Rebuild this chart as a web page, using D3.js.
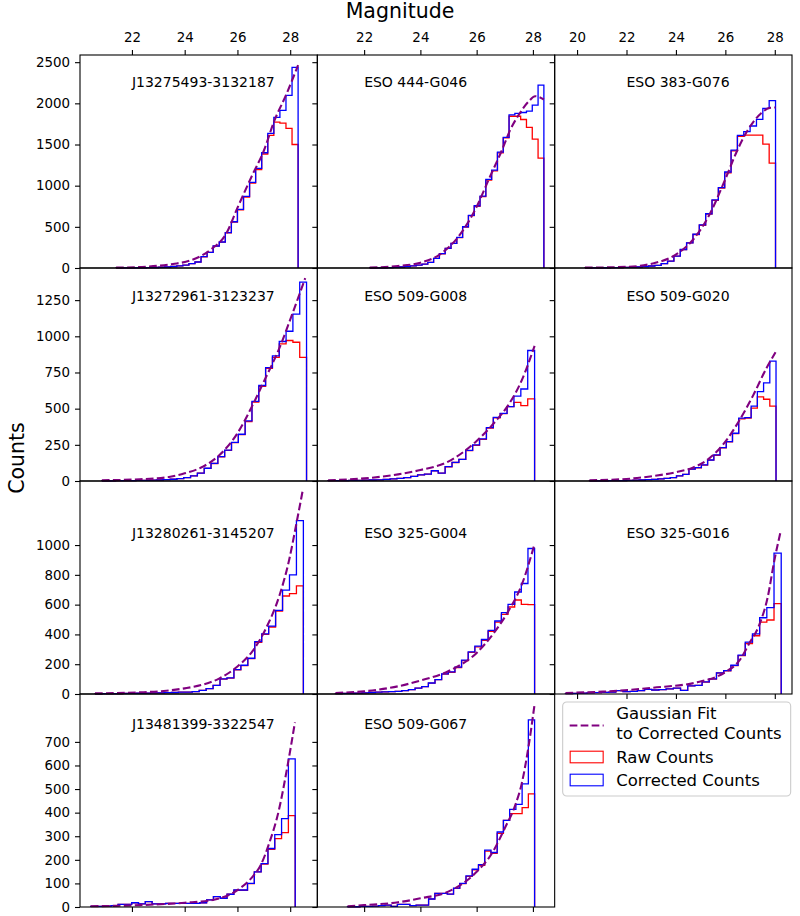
<!DOCTYPE html>
<html>
<head>
<meta charset="utf-8">
<script src="https://cdn.jsdelivr.net/npm/d3@7"></script>
<style>
body { margin: 0; background: #fff; }
svg { font-family: "DejaVu Sans", sans-serif; }
</style>
</head>
<body>
<div id="chart"></div>
<script>
// galaxy names, one per panel (row by row)
const names = [
    "J13275493-3132187", "ESO 444-G046", "ESO 383-G076",
    "J13272961-3123237", "ESO 509-G008", "ESO 509-G020",
    "J13280261-3145207", "ESO 325-G004", "ESO 325-G016",
    "J13481399-3322547", "ESO 509-G067"
];

// first and last histogram edge (30 bins in between)
const magRanges = [
    [21.40, 28.30], [22.20, 28.39], [20.32, 28.03],
    [20.86, 28.62], [20.72, 28.06], [20.50, 28.05],
    [20.60, 28.50], [20.98, 28.06], [19.53, 28.26],
    [20.44, 28.19], [21.41, 28.06]
];

const corrCounts = [
    [1, 1, 2, 3, 3, 5, 6, 9, 12, 18, 25, 36, 53, 73, 137, 190, 267, 316, 429, 562, 712, 870, 1040, 1210, 1400, 1635, 1829, 1914, 2096, 2436],
    [1, 2, 3, 5, 8, 12, 18, 26, 36, 48, 69, 117, 174, 239, 300, 372, 501, 639, 756, 874, 1076, 1189, 1408, 1586, 1860, 1877, 1889, 1905, 1978, 2221],
    [1, 1, 2, 3, 4, 5, 7, 9, 12, 16, 24, 32, 52, 84, 145, 225, 306, 410, 523, 659, 828, 977, 1166, 1431, 1612, 1656, 1725, 1805, 1938, 2034],
    [1, 1, 2, 2, 3, 4, 5, 6, 7, 9, 12, 16, 23, 35, 55, 88, 122, 168, 214, 267, 323, 415, 551, 660, 784, 865, 964, 1035, 1153, 1374],
    [2, 2, 3, 4, 5, 6, 7, 8, 11, 14, 18, 23, 32, 42, 48, 71, 55, 99, 129, 150, 212, 249, 291, 369, 440, 468, 514, 586, 636, 902],
    [1, 1, 1, 2, 3, 3, 4, 6, 7, 9, 11, 14, 18, 23, 35, 46, 83, 92, 111, 145, 180, 231, 272, 330, 434, 438, 517, 618, 678, 828],
    [1, 2, 2, 3, 4, 4, 5, 6, 7, 8, 9, 10, 12, 13, 16, 25, 36, 58, 101, 108, 164, 193, 240, 351, 404, 456, 562, 697, 800, 1164],
    [3, 4, 5, 6, 8, 10, 12, 14, 16, 18, 22, 29, 40, 49, 74, 97, 135, 148, 180, 227, 283, 321, 366, 427, 490, 546, 602, 685, 742, 977],
    [3, 4, 6, 8, 9, 11, 13, 22, 16, 18, 22, 31, 27, 29, 34, 40, 25, 54, 58, 81, 101, 142, 157, 193, 261, 348, 404, 512, 580, 946],
    [3, 3, 4, 6, 11, 11, 18, 13, 23, 13, 13, 15, 15, 15, 15, 15, 18, 30, 44, 37, 54, 72, 72, 100, 149, 184, 248, 307, 375, 628],
    [1, 1, 3, 3, 4, 6, 8, 3, 11, 11, 6, 8, 8, 34, 58, 58, 55, 80, 100, 132, 160, 180, 241, 231, 318, 367, 414, 435, 522, 793]
];

const rawCounts = [
    [1, 1, 2, 3, 3, 5, 6, 9, 12, 18, 25, 36, 53, 73, 136, 189, 265, 314, 426, 558, 706, 862, 1030, 1195, 1385, 1610, 1772, 1760, 1695, 1500],
    [1, 2, 3, 5, 8, 12, 18, 26, 36, 48, 69, 117, 173, 238, 298, 370, 498, 635, 750, 868, 1068, 1180, 1398, 1580, 1843, 1843, 1804, 1707, 1565, 1335],
    [1, 1, 2, 3, 4, 5, 7, 9, 12, 16, 24, 32, 52, 84, 144, 224, 304, 407, 519, 654, 821, 969, 1156, 1423, 1600, 1615, 1615, 1615, 1505, 1275],
    [1, 1, 2, 2, 3, 4, 5, 6, 7, 9, 12, 16, 23, 35, 55, 87, 121, 167, 212, 265, 320, 411, 545, 654, 778, 855, 948, 971, 959, 855],
    [2, 2, 3, 4, 5, 6, 7, 8, 11, 14, 18, 23, 32, 42, 48, 70, 55, 98, 128, 149, 210, 246, 288, 365, 436, 465, 514, 544, 521, 567],
    [1, 1, 1, 2, 3, 3, 4, 6, 7, 9, 11, 14, 18, 23, 35, 46, 82, 91, 110, 144, 178, 229, 270, 327, 430, 434, 503, 581, 565, 517],
    [1, 2, 2, 3, 4, 4, 5, 6, 7, 8, 9, 10, 12, 13, 16, 25, 36, 58, 100, 107, 162, 191, 238, 347, 400, 450, 557, 658, 674, 726],
    [3, 4, 5, 6, 8, 10, 12, 14, 16, 18, 22, 29, 40, 49, 73, 96, 134, 146, 178, 224, 280, 317, 361, 421, 483, 535, 584, 631, 602, 600],
    [3, 4, 6, 8, 9, 11, 13, 22, 16, 18, 22, 31, 27, 29, 34, 40, 25, 54, 58, 80, 100, 141, 155, 191, 258, 339, 391, 483, 497, 607],
    [3, 3, 4, 6, 11, 11, 18, 13, 23, 13, 13, 15, 15, 15, 15, 15, 18, 30, 44, 37, 54, 71, 71, 99, 149, 182, 244, 290, 315, 387],
    [1, 1, 3, 3, 4, 6, 8, 3, 11, 11, 6, 8, 8, 34, 58, 58, 55, 79, 99, 130, 158, 177, 237, 227, 312, 367, 396, 396, 421, 480]
];

// Gaussian fit curve as [magnitude, counts]
const fitPoints = [
    [[21.40, 4], [22.55, 16], [23.56, 49], [24.19, 89], [25.0, 227], [25.58, 421], [26.0, 730], [26.58, 1140], [27.0, 1424], [27.40, 1790], [27.84, 2099], [28.30, 2464]],
    [[22.2, 4], [23.2, 24], [24.0, 64], [24.75, 178], [25.35, 380], [26.0, 744], [26.42, 1068], [26.90, 1432], [27.19, 1675], [27.49, 1857], [27.84, 2019], [28.08, 2087], [28.39, 2047]],
    [[20.32, 4], [21.99, 14], [23.06, 55], [23.98, 160], [24.68, 340], [25.36, 650], [26.0, 1080], [26.44, 1400], [26.78, 1610], [27.12, 1770], [27.45, 1880], [27.79, 1945], [28.03, 1950]],
    [[20.86, 5], [22.3, 12], [23.31, 25], [24.0, 53], [24.69, 99], [25.32, 180], [26.0, 330], [26.58, 526], [27.0, 687], [27.59, 918], [28.09, 1160], [28.57, 1402]],
    [[20.72, 5], [22.0, 18], [23.21, 46], [24.0, 76], [24.99, 134], [26.0, 277], [26.66, 410], [27.13, 526], [27.61, 699], [28.06, 934]],
    [[20.5, 5], [21.99, 14], [23.06, 34], [23.98, 60], [24.68, 92], [25.36, 158], [26.0, 272], [26.57, 420], [27.12, 590], [27.66, 779], [28.03, 890]],
    [[20.6, 4], [22.3, 11], [23.31, 22], [24.0, 38], [24.69, 63], [25.32, 105], [26.0, 185], [26.58, 290], [27.08, 440], [27.59, 660], [27.96, 900], [28.22, 1130], [28.47, 1362]],
    [[20.98, 7], [22.0, 18], [23.21, 52], [24.0, 90], [24.99, 153], [26.0, 276], [26.66, 422], [27.13, 557], [27.61, 737], [28.06, 1007]],
    [[19.53, 7], [21.04, 16], [23.06, 42], [24.95, 82], [26.03, 150], [26.57, 225], [26.97, 340], [27.38, 467], [27.71, 647], [27.98, 894], [28.25, 1101]],
    [[20.44, 3], [22.30, 8], [24.0, 18], [25.06, 30], [26.0, 72], [26.57, 128], [26.88, 177], [27.20, 269], [27.57, 410], [27.89, 593], [28.18, 783]],
    [[21.41, 3], [22.0, 8], [23.21, 20], [24.0, 37], [24.99, 65], [26.0, 149], [26.54, 227], [27.02, 339], [27.37, 431], [27.6, 522], [27.84, 677], [28.06, 860]]
];

const rowTicks = [
    [0, 500, 1000, 1500, 2000, 2500],
    [0, 250, 500, 750, 1000, 1250],
    [0, 200, 400, 600, 800, 1000],
    [0, 100, 200, 300, 400, 500, 600, 700]
];
const colTicks = [[22, 24, 26, 28], [22, 24, 26, 28], [20, 22, 24, 26, 28]];

const legendLabels = ["Gaussian Fit\nto Corrected Counts", "Raw Counts", "Corrected Counts"];

// layout
const width = 800, height = 916;
const margin = {left: 80, right: 8, top: 55, bottom: 9};
const pw = (width - margin.left - margin.right) / 3;
const ph = (height - margin.top - margin.bottom) / 4;
const titleDy = [27, 28, 52, 30];
const tickLen = 5;

const panels = names.map((name, i) => ({
    name: name,
    row: Math.floor(i / 3),
    col: i % 3,
    lo: magRanges[i][0],
    hi: magRanges[i][1],
    raw: rawCounts[i],
    corr: corrCounts[i],
    fit: fitPoints[i]
}));

// shared x per column, shared y per row (like sharex/sharey)
const xScales = [0, 1, 2].map((c) => {
    let ps = panels.filter((p) => p.col === c);
    let lo = d3.min(ps, (p) => p.lo), hi = d3.max(ps, (p) => p.hi);
    let pad = (hi - lo) * 0.05;
    return d3.scaleLinear([lo - pad, hi + pad], [margin.left + c * pw, margin.left + (c + 1) * pw]);
});
const yScales = [0, 1, 2, 3].map((r) => {
    let ps = panels.filter((p) => p.row === r);
    let m = d3.max(ps, (p) => Math.max(d3.max(p.corr), d3.max(p.raw), d3.max(p.fit, (d) => d[1])));
    return d3.scaleLinear([0, m * 1.05], [margin.top + (r + 1) * ph, margin.top + r * ph]);
});

function stepPoints(p, counts) {
    let w = (p.hi - p.lo) / counts.length;
    let pts = [[p.lo, 0]];
    counts.forEach((c, k) => {
        pts.push([p.lo + k * w, c]);
        pts.push([p.lo + (k + 1) * w, c]);
    });
    pts.push([p.hi, 0]);
    return pts;
}

const svg = d3.select("#chart").append("svg")
    .attr("width", width)
    .attr("height", height);

svg.append("rect").attr("width", width).attr("height", height).attr("fill", "#fff");

panels.forEach((p) => {
    let x = xScales[p.col], y = yScales[p.row];
    let g = svg.append("g").classed("panel", true);

    let stepLine = d3.line().x((d) => x(d[0])).y((d) => y(d[1]));
    let fitLine = d3.line().x((d) => x(d[0])).y((d) => y(d[1])).curve(d3.curveMonotoneX);

    g.append("path")
        .attr("d", stepLine(stepPoints(p, p.raw)))
        .attr("fill", "none")
        .attr("stroke", "red")
        .attr("stroke-width", 1.3);

    g.append("path")
        .attr("d", stepLine(stepPoints(p, p.corr)))
        .attr("fill", "none")
        .attr("stroke", "blue")
        .attr("stroke-width", 1.3);

    g.append("path")
        .attr("d", fitLine(p.fit))
        .attr("fill", "none")
        .attr("stroke", "purple")
        .attr("stroke-width", 2.1)
        .attr("stroke-dasharray", "7.7,3.3");

    g.append("text")
        .attr("x", x(22))
        .attr("y", y.range()[1] + titleDy[p.row])
        .attr("dominant-baseline", "central")
        .attr("font-size", "14px")
        .attr("fill", "#000")
        .text(p.name);
});

// spines and ticks on top
function styleAxis(g) {
    g.select(".domain").remove();
    g.selectAll(".tick line").attr("stroke", "#000").attr("stroke-width", 1.1);
    g.selectAll(".tick text").attr("fill", "#000").attr("font-size", "13.4px")
        .attr("font-family", "DejaVu Sans, sans-serif");
}

panels.forEach((p) => {
    let x = xScales[p.col], y = yScales[p.row];
    let x0 = x.range()[0], x1 = x.range()[1];
    let yb = y.range()[0], yt = y.range()[1];

    let yAxis = d3.axisLeft(y).tickValues(rowTicks[p.row]).tickSize(tickLen).tickPadding(4.9)
        .tickFormat(d3.format("d"));
    if (p.col > 0) yAxis.tickFormat("");
    svg.append("g")
        .attr("transform", "translate(" + x0 + ",0)")
        .call(yAxis)
        .call(styleAxis);

    if (p.row === 0) {
        svg.append("g")
            .attr("transform", "translate(0," + yt + ")")
            .call(d3.axisTop(x).tickValues(colTicks[p.col]).tickSize(tickLen).tickPadding(8)
                .tickFormat(d3.format("d")))
            .call(styleAxis);
    }
    // bottom ticks only show where nothing sits underneath
    let below = panels.find((q) => q.row === p.row + 1 && q.col === p.col);
    if (!below) {
        svg.append("g")
            .attr("transform", "translate(0," + yb + ")")
            .call(d3.axisBottom(x).tickValues(colTicks[p.col]).tickSize(tickLen).tickFormat(""))
            .call(styleAxis);
    }

    svg.append("rect")
        .attr("x", x0).attr("y", yt)
        .attr("width", x1 - x0).attr("height", yb - yt)
        .attr("fill", "none")
        .attr("stroke", "#000")
        .attr("stroke-width", 1.1);
});

// axis labels
svg.append("text")
    .attr("x", width / 2)
    .attr("y", 11)
    .attr("text-anchor", "middle")
    .attr("dominant-baseline", "central")
    .attr("font-size", "20.5px")
    .text("Magnitude");

svg.append("text")
    .attr("transform", "translate(17," + (height / 2) + ") rotate(-90)")
    .attr("text-anchor", "middle")
    .attr("dominant-baseline", "central")
    .attr("font-size", "20.5px")
    .text("Counts");

// legend
let lx = margin.left + 2 * pw + 8, ly = margin.top + 3 * ph + 8;
let legend = svg.append("g").classed("legend", true).attr("transform", "translate(" + lx + "," + ly + ")");

legend.append("rect")
    .attr("x", 0).attr("y", 0)
    .attr("width", 228).attr("height", 94)
    .attr("rx", 4)
    .attr("fill", "#fff").attr("fill-opacity", 0.8)
    .attr("stroke", "#ccc").attr("stroke-width", 1.1);

legend.append("line")
    .attr("x1", 7).attr("x2", 41)
    .attr("y1", 23.5).attr("y2", 23.5)
    .attr("stroke", "purple").attr("stroke-width", 2.1)
    .attr("stroke-dasharray", "7.7,3.3");

// two-line label
legendLabels[0].split("\n").forEach((t, k) => {
    legend.append("text")
        .attr("x", 53.5)
        .attr("y", 17.4 + k * 19.4)
        .attr("font-size", "16.5px")
        .text(t);
});

[["red", legendLabels[1], 55], ["blue", legendLabels[2], 78]].forEach((d) => {
    legend.append("rect")
        .attr("x", 7.5).attr("y", d[2] - 5.8)
        .attr("width", 33).attr("height", 11.6)
        .attr("fill", "#fff")
        .attr("stroke", d[0]).attr("stroke-width", 1.1);
    legend.append("text")
        .attr("x", 53.5).attr("y", d[2])
        .attr("dominant-baseline", "central")
        .attr("font-size", "16.5px")
        .text(d[1]);
});
</script>
</body>
</html>
